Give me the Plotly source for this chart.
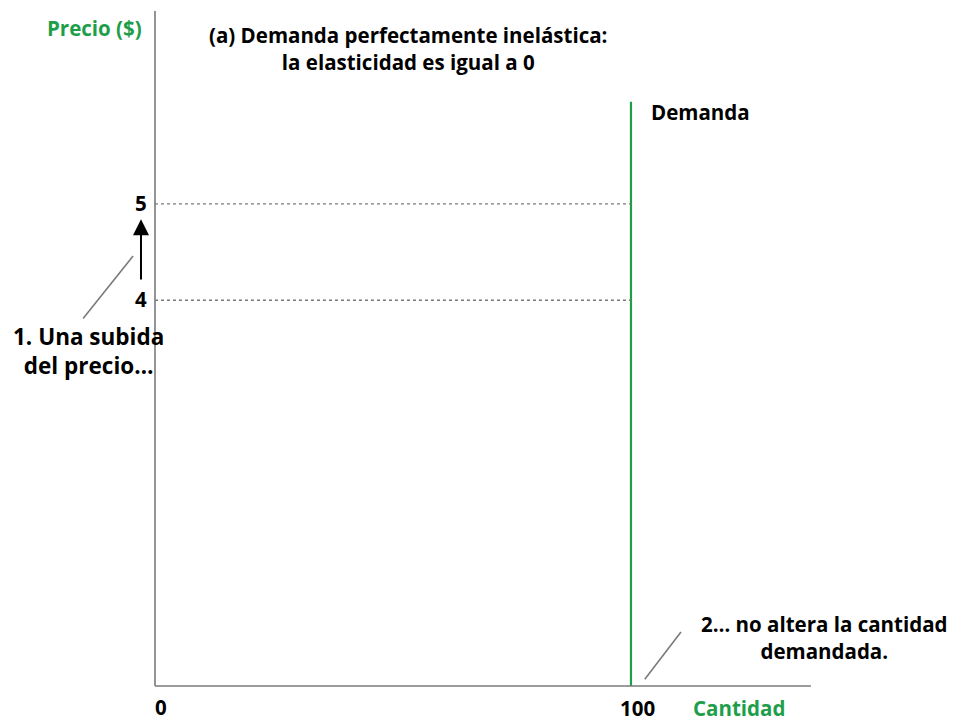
import plotly.graph_objects as go

# data
precios = [4, 5]
cantidad_demanda = 100
demanda_y = [0, 6.06]
x_max, y_max = 137.8, 7.0

verde = "#1e9e4a"
gris = "#7a7a7a"
fuente = "Open Sans"

fig = go.Figure()

# demand line
fig.add_trace(go.Scatter(x=[cantidad_demanda, cantidad_demanda], y=demanda_y, mode="lines",
                         line=dict(color=verde, width=2.2), hoverinfo="skip"))

# dotted price lines
for p in precios:
    fig.add_trace(go.Scatter(x=[0, cantidad_demanda], y=[p, p], mode="lines",
                             line=dict(color=gris, width=1.4, dash="dot"), hoverinfo="skip"))

# axes
fig.add_trace(go.Scatter(x=[0, x_max], y=[0, 0], mode="lines", line=dict(color=gris, width=1.6), hoverinfo="skip"))
fig.add_trace(go.Scatter(x=[0, 0], y=[0, y_max], mode="lines", line=dict(color=gris, width=1.6), hoverinfo="skip"))

# gray leader lines
fig.add_trace(go.Scatter(x=[-15.1, -4.6], y=[3.81, 4.46], mode="lines", line=dict(color=gris, width=1.6), hoverinfo="skip"))
fig.add_trace(go.Scatter(x=[102.9, 110.5], y=[0.07, 0.56], mode="lines", line=dict(color=gris, width=1.6), hoverinfo="skip"))

def txt(x, y, s, color="black", size=20.5, xanchor="center", align="center"):
    fig.add_annotation(x=x, y=y, text=s, showarrow=False, xanchor=xanchor, yanchor="middle",
                       align=align, font=dict(family=fuente, size=size, color=color, weight="bold"))

# arrow
fig.add_annotation(x=-2.94, y=4.84, ax=-2.94, ay=4.2, axref="x", ayref="y", text="",
                   showarrow=True, arrowhead=2, arrowsize=1.6, arrowwidth=2, arrowcolor="black")

txt(-2.94, 5.01, str(precios[1]))
txt(-2.94, 4.01, str(precios[0]))
txt(1.26, -0.22, "0")
txt(cantidad_demanda + 1.3, -0.23, str(cantidad_demanda))
txt(-2.31, 6.82, "Precio ($)", color=verde, xanchor="right")
txt(122.7, -0.23, "Cantidad", color=verde)
txt(103.8, 5.95, "Demanda", xanchor="left")
txt(53.15, 6.61, "(a) Demanda perfectamente inelástica:<br>la elasticidad es igual a 0")
txt(-13.9, 3.47, "1. Una subida<br>del precio…", size=22.5)
txt(140.75, 0.50, "2… no altera la cantidad<br>demandada.")

fig.update_layout(
    width=947, height=713, margin=dict(l=0, r=0, t=0, b=0),
    plot_bgcolor="white", paper_bgcolor="white", showlegend=False,
    xaxis=dict(range=[-30.88, 168.07], visible=False),
    yaxis=dict(range=[-0.363, 7.031], visible=False),
)

fig.write_html("out.html")
